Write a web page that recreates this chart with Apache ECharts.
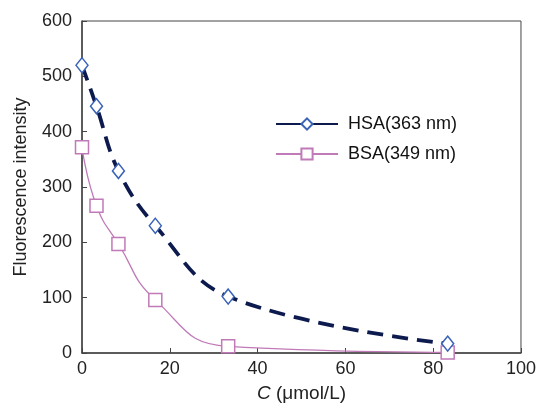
<!DOCTYPE html>
<html><head><meta charset="utf-8">
<script src="https://cdn.jsdelivr.net/npm/echarts@6/dist/echarts.min.js"></script>
<style>html,body{margin:0;padding:0;background:#fff}#c{width:539px;height:410px}</style>
</head><body><div id="c"></div>
<script>
const concentrations = [0, 3.3, 8.3, 16.7, 33.3, 83.3];
const hsaValues = [520, 446, 329, 230, 102, 17];
const bsaValues = [372, 266, 197, 96, 12, 1];
const xTicks = [0, 20, 40, 60, 80, 100];
const yTicks = [0, 100, 200, 300, 400, 500, 600];
const seriesNames = ['HSA(363 nm)', 'BSA(349 nm)'];

const font = 'Liberation Sans, Arial, sans-serif';
const chart = echarts.init(document.getElementById('c'));
chart.setOption({
  animation: false,
  backgroundColor: '#fff',
  grid: {left: 82, right: 16, top: 21, bottom: 57, show: true, borderColor: '#444', borderWidth: 1},
  legend: {
    data: seriesNames, orient: 'vertical', left: 270, top: 110, itemWidth: 62, itemHeight: 14, itemGap: 12,
    textStyle: {fontFamily: font, fontSize: 18, color: '#111', padding: [0, 0, 0, 5]},
    lineStyle: {type: 'solid'}
  },
  xAxis: {
    type: 'value', min: 0, max: 100, interval: 20,
    axisLine: {lineStyle: {color: '#444', width: 1.5}},
    axisTick: {inside: true, length: 5, lineStyle: {color: '#444'}},
    splitLine: {show: false},
    axisLabel: {fontFamily: font, fontSize: 18, color: '#222', margin: 7},
    name: '{i|C} (μmol/L)', nameLocation: 'middle', nameGap: 31,
    nameTextStyle: {fontFamily: font, fontSize: 19, color: '#222', rich: {i: {fontStyle: 'italic', fontFamily: font, fontSize: 19, color: '#222'}}}
  },
  yAxis: {
    type: 'value', min: 0, max: 600, interval: 100,
    axisLine: {show: true, lineStyle: {color: '#444', width: 1.5}},
    axisTick: {show: true, inside: true, length: 5, lineStyle: {color: '#444'}},
    splitLine: {show: false},
    axisLabel: {fontFamily: font, fontSize: 18, color: '#222', margin: 10},
    name: 'Fluorescence intensity', nameLocation: 'middle', nameGap: 52, nameRotate: 90,
    nameTextStyle: {fontFamily: font, fontSize: 18, color: '#222'}
  },
  series: [
    {
      name: seriesNames[0], type: 'line', smooth: 0.4,
      data: concentrations.map((x, i) => [x, hsaValues[i]]),
      symbol: 'diamond', symbolSize: [12, 15],
      lineStyle: {color: '#0d1a4e', width: 3.8, type: [16, 9]},
      itemStyle: {color: '#fff', borderColor: '#3b63b8', borderWidth: 1.5},
      z: 3
    },
    {
      name: seriesNames[1], type: 'line', smooth: 0.5,
      data: concentrations.map((x, i) => [x, bsaValues[i]]),
      symbol: 'rect', symbolSize: 13,
      lineStyle: {color: '#c07ab8', width: 1.3},
      itemStyle: {color: '#fff', borderColor: '#c07ab8', borderWidth: 1.5},
      z: 2
    }
  ]
});
</script></body></html>
